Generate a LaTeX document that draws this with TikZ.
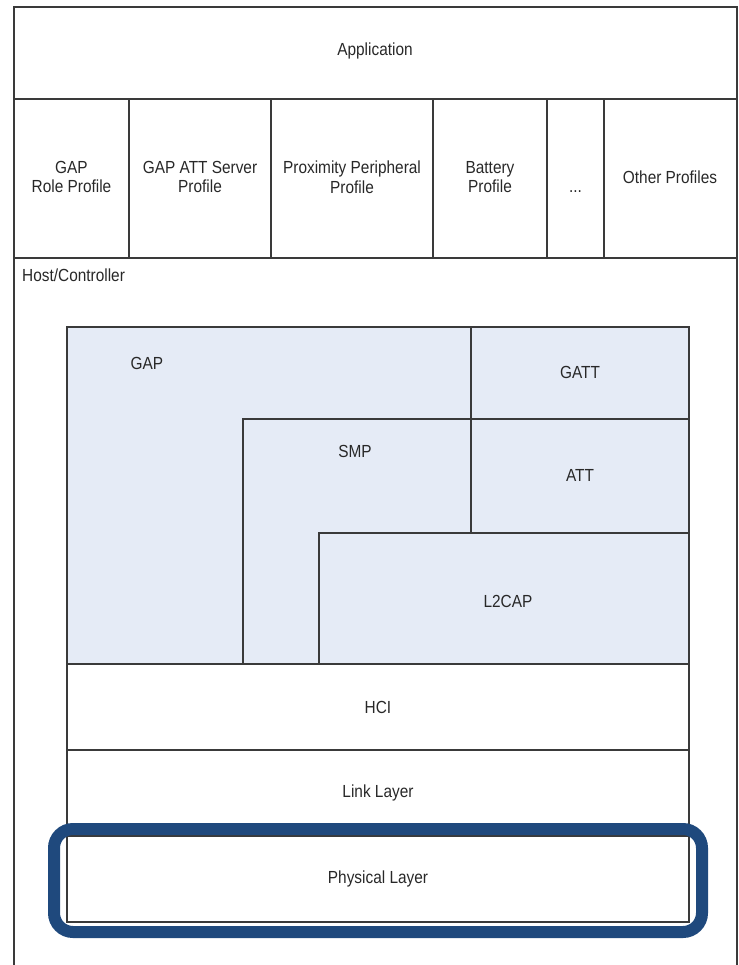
\documentclass[tikz,border=0pt]{standalone}
\usepackage{fontspec}
\setmainfont{Liberation Sans}[FakeStretch=0.88]
\definecolor{edge}{RGB}{58,58,58}
\definecolor{txt}{RGB}{40,40,40}
\definecolor{stackfill}{RGB}{229,235,246}
\definecolor{hilite}{RGB}{31,73,125}
\begin{document}
\begin{tikzpicture}[x=1pt,y=-1pt,
  line/.style={draw=edge,line width=1.3pt},
  box/.style={line,rectangle,anchor=north west,inner sep=0pt,outer sep=0pt},
  lbl/.style={text=txt,font=\fontsize{17.5}{19.5}\selectfont,align=center,inner sep=0pt},
  ring/.style={draw=hilite,line width=12pt,rounded corners=19pt}]
\useasboundingbox (0,0) rectangle (738,965);
% outer frame
\coordinate (fbl) at (14,965);
\coordinate (ftl) at (14,7);
\coordinate (ftr) at (737,7);
\coordinate (fbr) at (737,965);
\draw[line] (fbl) -- (ftl) -- (ftr) -- (fbr);
% application row
\node[box,minimum width=723pt,minimum height=92pt] (app) at (14,7) {};
\node[lbl] (appt) at (375,51) {Application};
% profiles row
\node[box,minimum width=115pt,minimum height=159pt] (p1) at (14,99) {};
\node[box,minimum width=142pt,minimum height=159pt] (p2) at (129,99) {};
\node[box,minimum width=162pt,minimum height=159pt] (p3) at (271,99) {};
\node[box,minimum width=114pt,minimum height=159pt] (p4) at (433,99) {};
\node[box,minimum width=57pt,minimum height=159pt] (p5) at (547,99) {};
\node[box,minimum width=133pt,minimum height=159pt] (p6) at (604,99) {};
\node[lbl] (p1t) at (71.5,177) {GAP\\Role Profile};
\node[lbl] (p2t) at (200,177) {GAP ATT Server\\Profile};
\node[lbl] (p3t) at (352,177) {Proximity Peripheral\\Profile};
\node[lbl] (p4t) at (490,177) {Battery\\Profile};
\node[lbl] (p5t) at (575.5,192) {...};
\node[lbl] (p6t) at (670,177) {Other Profiles};
\node[lbl,anchor=west] (host) at (22,275) {Host/Controller};
% protocol stack
\node[box,fill=stackfill,minimum width=622pt,minimum height=337pt] (stack) at (67,327) {};
\coordinate (a1) at (471,327);
\coordinate (a2) at (471,533);
\draw[line] (a1) -- (a2);
\coordinate (b1) at (243,664);
\coordinate (b2) at (243,419);
\coordinate (b3) at (689,419);
\draw[line] (b1) -- (b2) -- (b3);
\coordinate (c1) at (319,664);
\coordinate (c2) at (319,533);
\coordinate (c3) at (689,533);
\draw[line] (c1) -- (c2) -- (c3);
\node[lbl] (gap) at (147,363) {GAP};
\node[lbl] (gatt) at (580,372) {GATT};
\node[lbl] (smp) at (355,451) {SMP};
\node[lbl] (att) at (580,475) {ATT};
\node[lbl] (l2cap) at (508,601) {L2CAP};
% lower layers
\node[box,minimum width=622pt,minimum height=86pt] (hci) at (67,664) {};
\node[box,minimum width=622pt,minimum height=86pt] (ll) at (67,750) {};
\node[box,minimum width=622pt,minimum height=86pt] (phy) at (67,836) {};
\node[lbl] (hcit) at (378,707) {HCI};
\node[lbl] (llt) at (378,793) {Link Layer};
\node[lbl] (phyt) at (378,879) {Physical Layer};
% highlight ring
\coordinate (r1) at (54,829);
\coordinate (r2) at (702,932);
\draw[ring] (r1) rectangle (r2);
\end{tikzpicture}
\end{document}
